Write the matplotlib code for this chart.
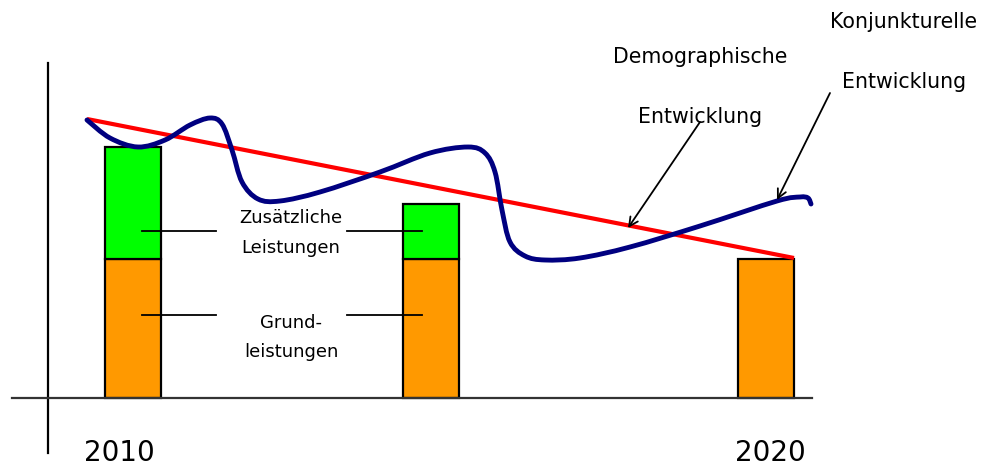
import matplotlib
matplotlib.use("Agg")
import matplotlib.pyplot as plt
from matplotlib.path import Path
from matplotlib.patches import PathPatch

# ---- data (x in horizontal units, y = height above baseline) ----
bar_x = [133, 431, 766]
bar_labels = ["2010", "", "2020"]
grund = [139, 139, 139]
zusatz = [112, 55, 0]

demo_x = [87, 794]
demo_y = [279, 140]

konj_x = [87, 110, 138, 165, 190, 210, 222, 232, 242, 258, 280, 320, 380,
          430, 468, 485, 495, 502, 510, 525, 545, 580, 630, 700, 777, 800, 808, 811]
konj_py = [120, 138, 147, 140, 125, 118, 124, 150, 182, 199, 201, 192, 172,
           153, 147, 153, 172, 210, 242, 256, 260, 258, 247, 226, 201, 197, 198, 204]
BASE = 398
konj_y = [BASE - v for v in konj_py]

fig = plt.figure(figsize=(9.85, 4.68), dpi=100)
ax = fig.add_axes([0, 0, 1, 1])
ax.set_xlim(0, 985)
ax.set_ylim(BASE - 468, BASE)
ax.axis("off")

width = 56
ax.bar(bar_x, grund, width=width, color="#FF9900", edgecolor="black", linewidth=1.6, zorder=2)
zx = [x for x, z in zip(bar_x, zusatz) if z > 0]
zz = [z for z in zusatz if z > 0]
zb = [g for g, z in zip(grund, zusatz) if z > 0]
ax.bar(zx, zz, bottom=zb, width=width, color="#00FF00", edgecolor="black", linewidth=1.6, zorder=2)

# axes lines
ax.plot([48, 48], [BASE - 63, BASE - 453], color="black", lw=1.6, zorder=1)
ax.plot([12, 812], [0, 0], color="#333333", lw=1.6, zorder=3)

# leader lines
for y in [167, 83]:
    ax.plot([142, 216], [y, y], color="black", lw=1.3, zorder=4)
    ax.plot([347, 422], [y, y], color="black", lw=1.3, zorder=4)

ax.plot(demo_x, demo_y, color="#FF0000", lw=3.0, zorder=5, solid_capstyle="butt")

# smooth curve through the read points (Catmull-Rom rendered as Bezier path)
pts = list(zip(konj_x, konj_y))
verts = [pts[0]]
codes = [Path.MOVETO]
n = len(pts)
for i in range(n - 1):
    p0 = pts[i - 1] if i > 0 else pts[i]
    p1 = pts[i]
    p2 = pts[i + 1]
    p3 = pts[i + 2] if i + 2 < n else pts[i + 1]
    c1 = (p1[0] + (p2[0] - p0[0]) / 6, p1[1] + (p2[1] - p0[1]) / 6)
    c2 = (p2[0] - (p3[0] - p1[0]) / 6, p2[1] - (p3[1] - p1[1]) / 6)
    verts += [c1, c2, p2]
    codes += [Path.CURVE4] * 3
ax.add_patch(PathPatch(Path(verts, codes), facecolor="none", edgecolor="#000080",
                       lw=3.5, zorder=6, capstyle="round", joinstyle="round"))

fs = 14.8
ax.text(904, BASE - 22, "Konjunkturelle", ha="center", va="center", fontsize=fs)
ax.text(904, BASE - 82, "Entwicklung", ha="center", va="center", fontsize=fs)
ax.text(700, BASE - 57, "Demographische", ha="center", va="center", fontsize=fs)
ax.text(700, BASE - 117, "Entwicklung", ha="center", va="center", fontsize=fs)

fs2 = 13
ax.text(291, BASE - 218, "Zusätzliche", ha="center", va="center", fontsize=fs2)
ax.text(291, BASE - 248, "Leistungen", ha="center", va="center", fontsize=fs2)
ax.text(291, BASE - 323, "Grund-", ha="center", va="center", fontsize=fs2)
ax.text(291, BASE - 352, "leistungen", ha="center", va="center", fontsize=fs2)

for x, lab in zip(bar_x, bar_labels):
    if lab:
        ax.text(x - 14 if lab == "2010" else x + 4, BASE - 453, lab, ha="center", va="center", fontsize=20)

arrow = dict(arrowstyle="->", color="black", lw=1.3, mutation_scale=16, shrinkA=0, shrinkB=0)
ax.annotate("", xy=(628, BASE - 228), xytext=(700, BASE - 122), arrowprops=arrow, zorder=7)
ax.annotate("", xy=(777, BASE - 200), xytext=(830, BASE - 93), arrowprops=arrow, zorder=7)

fig.savefig("out.png", dpi=100)
